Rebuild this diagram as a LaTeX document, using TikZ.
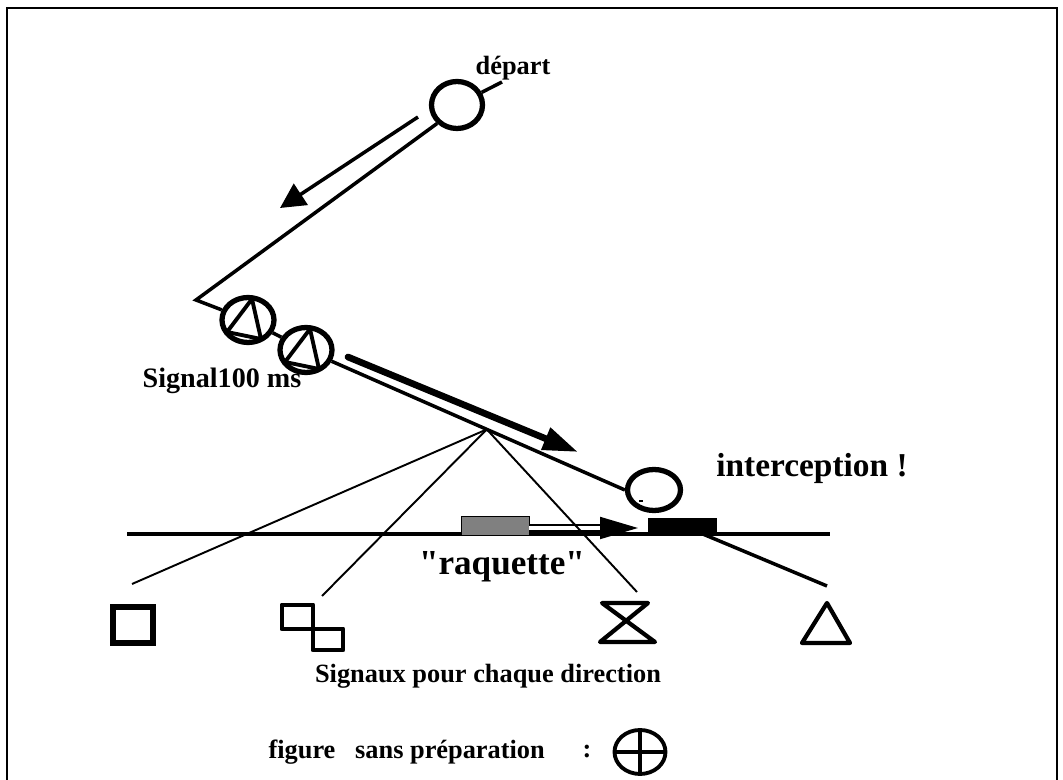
\documentclass[tikz,border=0pt]{standalone}
\usepackage{fontspec}
\setmainfont{Liberation Serif}
\newfontfamily\droit{Liberation Serif}[Ligatures=TeXOff]
\usetikzlibrary{positioning, shapes.geometric, arrows.meta, calc}
\tikzstyle{halte}=[ellipse, draw, line width=3pt, inner sep=0pt, minimum width=1.02cm, minimum height=0.94cm]
\tikzstyle{voie}=[line width=2pt]
\tikzstyle{rayon}=[line width=1.1pt]
\tikzstyle{fleche}=[line width=2pt, -{Triangle[length=0.5cm, width=0.5cm]}]
\tikzstyle{grosse fleche}=[line width=3.8pt, line cap=round, -{Triangle[length=0.7cm, width=0.45cm]}]
\tikzstyle{fleche creuse}=[line width=1.1pt, double=white, double distance=2.4pt, -{Triangle[length=0.76cm, width=0.44cm]}]
\tikzstyle{etiquette}=[font=\bfseries\fontsize{15}{18}\selectfont, inner sep=0pt]
\tikzstyle{titre}=[font=\bfseries\fontsize{20}{24}\selectfont, inner sep=0pt]
\tikzstyle{signe}=[line width=2.8pt, line join=round, line cap=round]

\begin{document}
\begin{tikzpicture}[x=0.02cm, y=-0.02cm]
    \useasboundingbox (0,0) rectangle (1063,780);
    % Cadre
    \draw[line width=1.2pt] (7,780) -- (7,8) -- (1057,8) -- (1057,780);

    % Noeuds
    \node[halte] (depart) at (457,105) {};
    \node[halte, minimum width=1.04cm, minimum height=0.9cm] (sigA) at (248,320) {};
    \node[halte, minimum width=1.04cm, minimum height=0.9cm] (sigB) at (306,350) {};
    \node[halte, minimum width=1.06cm, minimum height=0.82cm] (inter) at (654,490) {};
    \node[halte, line width=2.2pt, minimum width=1.02cm, minimum height=0.88cm] (croix) at (640,752) {};

    \coordinate (queue) at (502,82);
    \coordinate (coin) at (196,300);
    \coordinate (fin) at (827,586);
    \coordinate (solG) at (127,534);
    \coordinate (solD) at (830,534);
    \coordinate (sommet) at ($(sigB.center)!0.567!(inter.west)$);

    % Voie
    \draw[voie] (queue) -- (depart);
    \draw[voie] (depart.south west) -- (coin) -- (sigA) -- (sigB) -- (inter.west);
    \draw[voie] (solG) -- (solD);
    \foreach \s in {sigA, sigB}
        \draw[line width=2.2pt, line join=round, shift={(\s.center)}] (4,-21) -- (-21,12) -- (13,19) -- cycle;
    \fill (639,500) rectangle (643,502);

    % Raquette
    \node[draw, fill=gray, minimum width=1.36cm, minimum height=0.38cm, inner sep=0pt] (raq) at (495,525.5) {};
    \node[fill, minimum width=1.38cm, minimum height=0.3cm, inner sep=0pt] (bloc) at (682.5,525.5) {};
    \draw[voie] (bloc) -- (fin);
    \coordinate (pointe) at (638,528);
    \draw[fleche creuse] (raq.east |- pointe) -- (pointe);

    % Fleches
    \coordinate (f1a) at (418,117);
    \coordinate (f1b) at (280,208);
    \draw[fleche] (f1a) -- (f1b);
    \coordinate (f2a) at (348,357);
    \coordinate (f2b) at (578,452);
    \draw[grosse fleche] (f2a) -- (f2b);

    % Rayons
    \coordinate (r1) at (132,584);
    \coordinate (r2) at (322,596);
    \coordinate (r3) at (637,592);
    \foreach \r in {r1, r2, r3}
        \draw[rayon] (sommet) -- (\r);

    % Signaux
    \draw[signe, line width=3.2pt, line cap=butt, line join=miter] (113,607) rectangle (153,643);
    \draw[signe] (282,605) rectangle (313,629);
    \draw[signe] (313,629) rectangle (343,650);
    \draw[signe, line width=2.4pt] (602,603) -- (648,603) -- (600,642) -- (655,642) -- cycle;
    \draw[signe, line width=2.4pt] (827,603) -- (802,643) -- (850,643) -- cycle;
    \draw[line width=2.2pt] (croix.west) -- (croix.east) (croix.north) -- (croix.south);

    % Textes
    \node[etiquette] (tdepart) at (513,68) {départ};
    \node[etiquette, font=\bfseries\fontsize{16}{19}\selectfont] (tsignal) at (222,381) {Signal100 ms};
    \node[titre, font=\droit\bfseries\fontsize{20}{24}\selectfont] (traquette) at (502,567) {"raquette"};
    \node[titre, font=\bfseries\fontsize{19}{23}\selectfont] (tinter) at (812,468) {interception !};
    \node[etiquette] (tsignaux) at (488,676) {Signaux pour chaque direction};
    \node[etiquette] (tfigure) at (302,752) {figure};
    \node[etiquette] (tsans) at (450,752) {sans préparation};
    \node[etiquette] (tdeux) at (587,752) {:};
\end{tikzpicture}
\end{document}
